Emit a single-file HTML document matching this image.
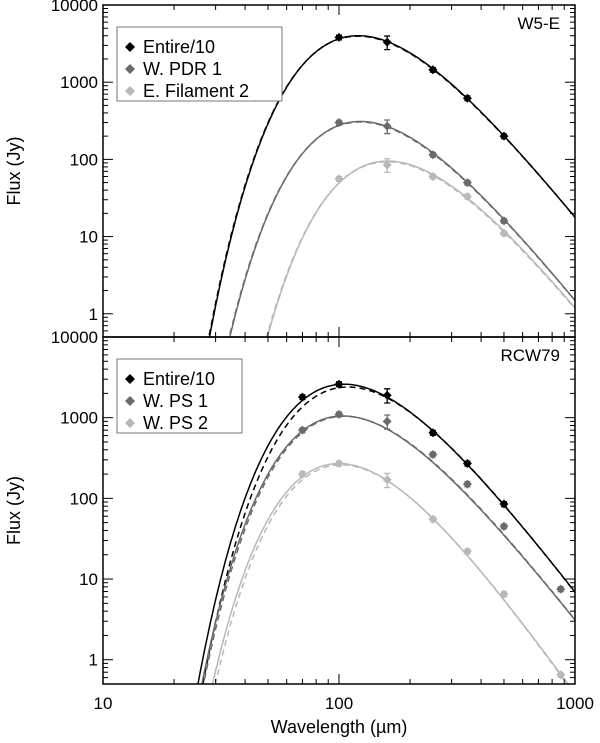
<!DOCTYPE html>
<html><head><meta charset="utf-8"><style>
html,body{margin:0;padding:0;background:#fff;overflow:hidden;width:600px;height:743px;}
svg{display:block;}
svg text{font-family:"Liberation Sans",Arial,sans-serif;}
</style></head><body>
<svg id="c" width="600" height="743" viewBox="0 0 600 743" xmlns="http://www.w3.org/2000/svg"></svg>
<script>
const wavelengths = [70,100,160,250,350,500];
const wavelengthsB = [70,100,160,250,350,500,870];
// Top panel (W5-E)
const topEntire = [null,3800,3300,1450,620,200];
const topPDR = [null,300,270,115,50,16];
const topFil = [null,56,85,60,33,11];
// Bottom panel (RCW79)
const botEntire = [1800,2600,1900,650,270,85,null];
const botPS1 = [700,1100,900,350,150,45,7.5];
const botPS2 = [200,270,170,55,22,6.5,0.65];
// Fit params: [T, beta, peakFlux]
const topFits = [[24,2.0,4000],[23.5,2.0,310],[18,2.0,95]];
const topFitsD = [[24.2,1.98,3950],[23.7,1.98,305],[18.2,1.98,93]];
const botFits = [[27.6,2.0,2600],[28.5,1.9,1050],[27.3,2.3,270]];
const botFitsD = [[26.3,2.05,2400],[28,1.92,1040],[26.5,2.35,260]];
const xTicks = [10,100,1000];
const yTicks = [1,10,100,1000,10000];
const colors = ['#000','#6a6a6a','#b8b8b8'];

const NS='http://www.w3.org/2000/svg';
const svg=document.getElementById('c');
const X0=103,X1=575;
function xs(l){return X0+(Math.log10(l)-1)/2*(X1-X0);}
function panelY(top,bot){return v=>bot-(Math.log10(v)-Math.log10(0.5))/(4-Math.log10(0.5))*(bot-top);}
function mk(tag,attrs,parent){const e=document.createElementNS(NS,tag);for(const k in attrs)e.setAttribute(k,attrs[k]);(parent||svg).appendChild(e);return e;}
function mbb(l,T,b){const x=14388/(l*T);return Math.pow(l,-(3+b))/(Math.exp(x)-1);}
function fitFn(p){const[T,b,pk]=p;let m=0;for(let l=10;l<=1000;l*=1.01)m=Math.max(m,mbb(l,T,b));return l=>pk*mbb(l,T,b)/m;}

function panel(top,bot,name,label,fits,fitsD,series,wl,legendNames,legW){
  const ys=panelY(top,bot);
  const g=mk('g',{});
  
  
  const clipId='clip'+name;
  const cp=mk('clipPath',{id:clipId},g);mk('rect',{x:X0,y:top,width:X1-X0,height:bot-top},cp);
  const cg=mk('g',{'clip-path':'url(#'+clipId+')'},g);
  [fitsD,fits].forEach((fs,di)=>{fs.forEach((p,i)=>{
    const f=fitFn(p);let d='';
    for(let l=15;l<=1100;l*=1.01){const v=f(l);if(v<1e-3)continue;d+=(d?'L':'M')+xs(l).toFixed(1)+','+ys(v).toFixed(1);}
    const path=mk('path',{d:d,fill:'none',stroke:colors[i],'stroke-width':1.5,'stroke-dasharray':di==0?'6,4':'none'},cg);
    
    
  });});
  series.forEach((s,i)=>{s.forEach((v,j)=>{
    if(v==null)return;
    const cx=xs(wl[j]),cy=ys(v);const e=(j==2?0.2:0.07);
    const eb=mk('path',{d:`M${cx},${ys(v*(1+e))}V${ys(v*(1-e))}M${cx-3},${ys(v*(1+e))}h6M${cx-3},${ys(v*(1-e))}h6`,stroke:colors[i],'stroke-width':1.3,fill:'none'},cg);
    
    
    const pt=mk('path',{d:`M${cx},${cy-4.5}L${cx+4.5},${cy}L${cx},${cy+4.5}L${cx-4.5},${cy}Z`,fill:colors[i]},cg);
    
    
  });});
  mk('rect',{x:X0,y:top,width:X1-X0,height:bot-top,fill:'none',stroke:'#000','stroke-width':1.5},g);
  for(let dec=-1;dec<=4;dec++){for(let k=1;k<10;k++){const v=k*Math.pow(10,dec);if(v<0.5||v>10000)continue;const y=ys(v);const L=k==1?10:5;
    mk('line',{x1:X0,x2:X0+L,y1:y,y2:y,stroke:'#000','stroke-width':1},g);mk('line',{x1:X1,x2:X1-L,y1:y,y2:y,stroke:'#000','stroke-width':1},g);}}
  yTicks.forEach(v=>{const t=mk('text',{x:X0-5,y:ys(v)+6,'text-anchor':'end','font-size':17},g);t.textContent=v;
    
    });
  for(let dec=1;dec<=2;dec++){for(let k=1;k<=10;k++){const l=k*Math.pow(10,dec);const x=xs(l);const L=(k==1||k==10)?10:5;
    mk('line',{x1:x,x2:x,y1:bot,y2:bot-L,stroke:'#000','stroke-width':1},g);mk('line',{x1:x,x2:x,y1:top,y2:top+L,stroke:'#000','stroke-width':1},g);}}
  const lab=mk('text',{x:560,y:top+24,'text-anchor':'end','font-size':17},g);lab.textContent=label;
  
  
  const yt=mk('text',{x:0,y:0,'text-anchor':'middle','font-size':18,transform:`translate(20,${(top+bot)/2}) rotate(-90)`},g);yt.textContent='Flux (Jy)';
  
  
  const lg=mk('g',{},g);
  
  
  mk('rect',{x:117,y:top+22,width:legW,height:74,fill:'#fff',stroke:'#777','stroke-width':1},lg);
  legendNames.forEach((n,i)=>{const cy=top+42+i*22;
    mk('path',{d:`M130,${cy-5}L135,${cy}L130,${cy+5}L125,${cy}Z`,fill:colors[i]},lg);
    const t=mk('text',{x:143,y:cy+6,'font-size':18},lg);t.textContent=n;
    
    });
}
panel(5,337,'panel-w5e','W5-E',topFits,topFitsD,[topEntire,topPDR,topFil],wavelengths,['Entire/10','W. PDR 1','E. Filament 2'],165);
panel(337,684,'panel-rcw79','RCW79',botFits,botFitsD,[botEntire,botPS1,botPS2],wavelengthsB,['Entire/10','W. PS 1','W. PS 2'],125);
xTicks.forEach(v=>{const t=mk('text',{x:xs(v),y:709,'text-anchor':'middle','font-size':17});t.textContent=v;
  
  });
const xt=mk('text',{x:339,y:733,'text-anchor':'middle','font-size':18});xt.textContent='Wavelength (µm)';


</script>
</body></html>
